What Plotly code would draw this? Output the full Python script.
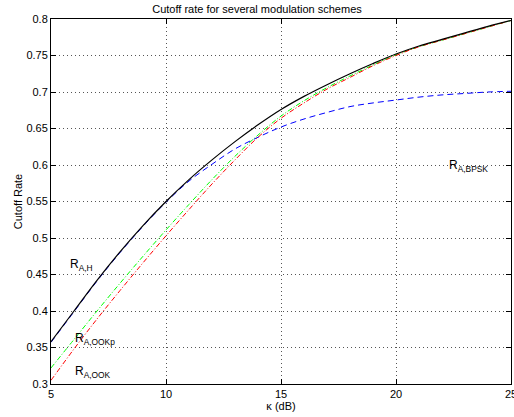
import plotly.graph_objects as go

kappa_db = [5, 6, 7, 8, 9, 10, 11, 12, 13, 14, 15, 16, 17, 18, 19, 20, 21, 22, 23, 24, 25]

r_h = [0.358, 0.400, 0.442, 0.481, 0.517, 0.550, 0.580, 0.607, 0.632, 0.655, 0.676,
       0.694, 0.710, 0.725, 0.739, 0.752, 0.763, 0.772, 0.781, 0.790, 0.798]
r_bpsk = [0.357, 0.399, 0.441, 0.480, 0.516, 0.549, 0.578, 0.601, 0.622, 0.638, 0.652,
          0.663, 0.672, 0.680, 0.685, 0.689, 0.693, 0.696, 0.698, 0.700, 0.701]
r_ookp = [0.322, 0.361, 0.400, 0.438, 0.475, 0.511, 0.546, 0.580, 0.612, 0.641, 0.667,
          0.688, 0.706, 0.722, 0.737, 0.751, 0.762, 0.771, 0.780, 0.789, 0.798]
r_ook = [0.305, 0.348, 0.389, 0.428, 0.466, 0.503, 0.539, 0.574, 0.607, 0.638, 0.664,
         0.685, 0.704, 0.720, 0.736, 0.750, 0.762, 0.771, 0.780, 0.789, 0.798]

x_ticks = [5, 10, 15, 20, 25]
x_ticklabels = ["5", "10", "15", "20", "25"]
y_ticks = [0.3, 0.35, 0.4, 0.45, 0.5, 0.55, 0.6, 0.65, 0.7, 0.75, 0.8]
y_ticklabels = ["0.3", "0.35", "0.4", "0.45", "0.5", "0.55", "0.6", "0.65", "0.7", "0.75", "0.8"]

labels = [
    ("R<sub>A,H</sub>", 5.72, 0.463),
    ("R<sub>A,OOKp</sub>", 5.95, 0.362),
    ("R<sub>A,OOK</sub>", 5.95, 0.316),
    ("R<sub>A,BPSK</sub>", 22.2, 0.598),
]

FONT = "Liberation Sans, Arial, sans-serif"

fig = go.Figure()
fig.add_trace(go.Scatter(x=kappa_db, y=r_bpsk, mode="lines", line=dict(color="#0000ff", width=1, dash="6px,4px", shape="spline"), showlegend=False))
fig.add_trace(go.Scatter(x=kappa_db, y=r_ookp, mode="lines", line=dict(color="#00ff00", width=1, dash="5px,2px,1px,2px", shape="spline"), showlegend=False))
fig.add_trace(go.Scatter(x=kappa_db, y=r_ook, mode="lines", line=dict(color="#ff0000", width=1, dash="5px,2px,1px,2px", shape="spline"), showlegend=False))
fig.add_trace(go.Scatter(x=kappa_db, y=r_h, mode="lines", line=dict(color="#000000", width=1.2, shape="spline"), showlegend=False))

for txt, x, y in labels:
    fig.add_annotation(x=x, y=y, text=txt, showarrow=False, xanchor="left", yanchor="middle",
                       font=dict(family=FONT, size=12, color="#000"))

axis_common = dict(showline=True, linecolor="black", linewidth=1, mirror="ticks",
                   ticks="inside", ticklen=5, tickcolor="black",
                   showgrid=True, gridcolor="#555", griddash="1px,3px", gridwidth=1,
                   zeroline=False, ticklabeloverflow="allow", automargin=False,
                   tickfont=dict(family=FONT, size=11, color="#000"))

fig.update_layout(
    width=514, height=417,
    margin=dict(l=51, r=3, t=19, b=33),
    paper_bgcolor="white", plot_bgcolor="white",
    title=dict(text="Cutoff rate for several modulation schemes", x=0.5, xanchor="center",
               y=0.979, yanchor="middle", font=dict(family=FONT, size=11, color="#000")),
    xaxis=dict(range=[5, 25], tickvals=x_ticks, ticktext=x_ticklabels,
               title=dict(text="κ (dB)", standoff=2, font=dict(family=FONT, size=11, color="#000")),
               **axis_common),
    yaxis=dict(range=[0.3, 0.8], tickvals=y_ticks, ticktext=y_ticklabels,
               title=dict(text="Cutoff Rate", standoff=1, font=dict(family=FONT, size=11, color="#000")),
               **axis_common),
)

fig.write_html("out.html")
